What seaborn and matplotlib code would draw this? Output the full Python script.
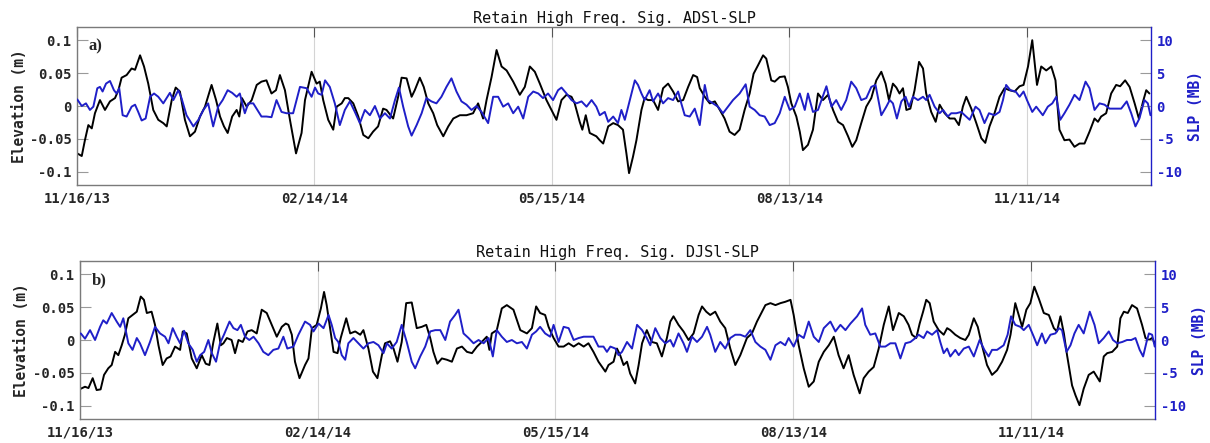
import matplotlib
matplotlib.use("Agg")
import matplotlib.pyplot as plt
import numpy as np
import pandas as pd
import seaborn as sns

# ---------------------------------------------------------------------------
# Data: high-pass filtered water elevation (m) and sea-level pressure (MB),
# sampled as days elapsed since the series start.
# ---------------------------------------------------------------------------
START = pd.Timestamp("2013-11-16")
SPAN_DAYS = 407

TICK_LABELS = ["11/16/13", "02/14/14", "05/15/14", "08/13/14", "11/11/14"]
ELEV_TICKS = [0.1, 0.05, 0, -0.05, -0.1]
ELEV_LABELS = ["0.1", "0.05", "0", "-0.05", "-0.1"]
SLP_TICKS = [10, 5, 0, -5, -10]
SLP_LABELS = ["10", "5", "0", "-5", "-10"]
TITLES = ["Retain High Freq. Sig. ADSl-SLP", "Retain High Freq. Sig. DJSl-SLP"]
TAGS = ["a)", "b)"]

# ADSl elevation
ads_elev_days = [
    0.1, 1.8, 3.0, 4.3, 5.6, 6.8, 8.7, 10.6, 12.5, 14.4, 15.7, 16.9, 18.8, 20.7, 22.0, 23.9, 25.4,
    27.0, 28.9, 30.8, 32.7, 34.0, 35.9, 37.4, 39.0, 40.9, 42.8, 44.7, 46.6, 48.5, 51.0, 52.7, 54.2,
    55.7, 57.1, 58.8, 60.5, 61.5, 62.5, 64.3, 66.2, 68.1, 69.9, 71.8, 73.7, 75.4, 76.9, 78.8, 80.7,
    83.0, 85.1,
    86.4, 88.9, 90.8, 92.0, 93.3, 95.2, 97.1, 98.4, 100.3, 101.5, 102.8, 104.7, 106.6, 108.5, 110.4,
    112.2, 114.1, 116.0, 117.3, 119.8, 121.7, 123.0, 124.9, 126.8, 128.0, 129.9, 131.4, 133.1, 135.0,
    136.5, 138.8, 140.7, 142.6, 145.1, 147.6, 150.1, 152.0, 153.9, 155.2, 157.1, 159.0, 160.9, 162.8,
    165.3, 167.8, 169.7, 171.6, 173.5, 175.4, 177.9, 179.8, 181.7, 183.6, 185.5, 187.4, 188.6, 190.5,
    191.5, 192.8, 194.3, 196.8,
    198.1, 199.4, 201.3, 203.2, 205.0, 206.9, 208.2, 209.2, 210.7, 212.0, 213.9, 215.1, 216.4, 218.3,
    220.2, 222.1, 224.0, 225.9, 227.8, 229.7, 231.6, 233.5, 235.0, 236.0, 237.9, 239.8, 241.7, 243.6,
    245.4, 247.3, 249.2, 251.1, 253.0, 254.9, 256.4, 258.1, 260.0, 261.2, 263.1, 264.4, 266.3, 268.2,
    269.4, 270.7, 272.6, 273.9, 275.1, 277.0, 278.9, 280.8, 282.7, 284.6, 286.5, 288.4, 290.3, 292.2,
    293.8, 295.3, 297.2, 299.1, 301.0, 302.9, 304.8, 306.4, 307.7,
    309.2, 310.5, 311.7, 313.0, 314.3, 315.8, 317.4, 319.1, 320.6, 321.8, 323.7, 325.4, 326.9, 328.8,
    330.7, 332.6, 334.2, 335.7, 337.0, 338.9, 340.8, 342.7, 344.2, 345.8, 347.7, 349.6, 351.5, 353.4,
    355.3, 357.2, 358.7, 360.4, 362.0, 363.8, 365.4, 367.3, 369.2, 370.8, 372.3, 374.2, 376.1, 378.0,
    379.9, 381.8, 383.7, 385.6, 386.9, 388.1, 390.0, 391.9, 393.8, 395.3, 397.2, 398.9, 400.8, 402.4,
    404.0, 405.2, 406.4,
]
ads_elev = [
    -0.072, -0.076, -0.052, -0.029, -0.034, -0.011, 0.009, -0.006, 0.007, 0.012, 0.024, 0.043, 0.047,
    0.057, 0.055, 0.077, 0.060, 0.034, -0.006, -0.021, -0.026, -0.031, 0.009, 0.028, 0.022, -0.021,
    -0.046, -0.039, -0.016, -0.001, 0.032, 0.009, -0.016, -0.031, -0.041, -0.016, -0.006, -0.016,
    0.012, -0.001, 0.009, 0.032, 0.037, 0.039, 0.019, 0.024, 0.047, 0.024, -0.021, -0.072, -0.041,
    0.009, 0.052, 0.034, 0.037, 0.009, -0.021, -0.036, -0.001, 0.004, 0.012, 0.012, 0.004, -0.016,
    -0.044, -0.049, -0.039, -0.031, -0.004, -0.006, -0.019, 0.014, 0.043, 0.042, 0.014, 0.024, 0.043,
    0.029, 0.004, -0.011, -0.029, -0.046, -0.031, -0.019, -0.014, -0.014, -0.011, 0.004, -0.019,
    0.009, 0.044, 0.085, 0.060, 0.054, 0.037, 0.017, 0.029, 0.060, 0.052, 0.034, 0.009, -0.006,
    -0.021, 0.009, 0.017, 0.014, 0.004, -0.024, -0.036, -0.014, -0.041, -0.046,
    -0.052, -0.057, -0.031, -0.026, -0.029, -0.036, -0.072, -0.102, -0.077, -0.052, -0.006, 0.012,
    0.009, 0.009, -0.006, 0.027, 0.034, 0.022, 0.007, 0.009, 0.029, 0.047, 0.044, 0.027, 0.014, 0.004,
    0.007, -0.006, -0.019, -0.039, -0.044, -0.036, -0.006, 0.019, 0.049, 0.062, 0.077, 0.072, 0.039,
    0.037, 0.044, 0.045, 0.029, 0.004, -0.016, -0.039, -0.067, -0.059, -0.036, 0.019, 0.009, 0.017,
    -0.006, -0.024, -0.029, -0.046, -0.062, -0.052, -0.026, -0.001, 0.012, 0.039, 0.052, 0.034, 0.009,
    0.034, 0.028, 0.019, 0.027, -0.006, -0.004, 0.024, 0.067, 0.057, 0.019, -0.009, -0.024, 0.002,
    -0.011, -0.019, -0.019, -0.029, -0.001, 0.014, -0.004, -0.026, -0.049, -0.056, -0.031, -0.011,
    0.014, 0.027, 0.024, 0.022, 0.030, 0.032, 0.060, 0.100, 0.032, 0.060, 0.054, 0.060, 0.039, -0.036,
    -0.052, -0.051, -0.062, -0.057, -0.057, -0.039, -0.019, -0.024, -0.016, -0.011, 0.019, 0.032,
    0.030, 0.039, 0.029, 0.004, -0.019, 0.007, 0.024, 0.019,
]

# SLP paired with ADSl
ads_slp_days = [
    0.1, 1.8, 3.4, 4.9, 6.2, 7.7, 8.7, 9.7, 11.0, 12.5, 14.0, 15.0, 16.0, 17.3, 18.8, 20.7, 22.0,
    23.2, 24.5, 26.0, 27.7, 29.2, 30.8, 32.7, 35.2, 36.5, 38.4, 39.6, 41.5, 44.1, 46.0, 47.9, 49.7,
    51.6, 53.5, 55.2, 57.1, 58.8, 60.5, 61.7, 63.6, 64.9, 66.8, 69.9, 71.8, 73.7, 75.6, 77.5, 79.4,
    81.9,
    84.5, 87.0, 88.9, 90.2, 91.4, 92.7, 94.0, 95.8, 97.7, 99.6, 101.5, 103.4, 105.3, 107.2, 109.1,
    111.0, 112.9, 114.8, 116.7, 118.6, 120.5, 122.0, 123.6, 125.5, 126.8, 128.7, 130.6, 132.4, 134.3,
    136.2, 138.1, 140.0, 141.9, 143.8, 145.7, 147.6, 149.5, 151.4, 153.3, 155.8, 157.7, 159.6, 161.5,
    163.4, 165.3, 167.2, 169.1, 171.0, 172.9, 174.8, 176.6, 178.5, 180.4, 182.3, 183.6, 185.5, 187.4,
    189.3, 191.2, 193.1, 195.0, 196.8,
    198.1, 200.0, 201.3, 203.2, 205.0, 206.3, 207.6, 209.5, 211.4, 212.6, 213.9, 215.1, 217.0, 218.3,
    220.2, 222.1, 224.0, 225.9, 227.8, 229.0, 230.3, 232.2, 234.1, 236.0, 237.9, 239.1, 241.0, 242.9,
    244.8, 246.7, 248.6, 251.1, 253.4, 254.9, 256.8, 258.7, 260.6, 262.5, 264.4, 266.3, 268.2, 270.1,
    272.0, 273.9, 275.8, 277.0, 278.9, 280.8, 282.4, 284.0, 285.9, 287.7, 289.6, 291.5, 293.4, 295.3,
    297.2, 299.1, 301.0, 302.6, 304.8, 306.7,
    308.0, 309.2, 310.7, 312.4, 314.0, 315.3, 316.8, 318.7, 320.6, 321.8, 323.1, 325.0, 326.9, 328.2,
    330.0, 331.3, 333.2, 335.1, 336.4, 338.3, 340.5, 342.0, 343.9, 345.6, 347.7, 349.6, 350.9, 352.1,
    353.7, 355.7, 357.2, 358.7, 360.0, 362.0, 363.5, 366.0, 367.9, 369.6, 371.1, 372.6, 374.2, 376.1,
    378.0, 379.9, 382.2, 383.7, 385.6, 387.5, 389.4, 391.3, 393.2, 395.7, 397.8, 399.5, 401.1, 402.6,
    404.5, 405.8, 406.8,
]
ads_slp = [
    1.0, 0.0, 0.4, -0.6, -0.1, 2.7, 2.9, 2.2, 3.4, 3.8, 2.4, 1.9, 2.7, -1.4, -1.6, -0.1, 0.2, -0.9,
    -2.2, -1.9, 1.4, 1.9, 1.4, 0.4, 2.0, 0.9, 2.4, 1.2, -1.4, -3.1, -2.1, -0.6, 0.4, -3.1, -0.1, 0.9,
    2.4, 2.0, 1.4, 1.9, -1.1, 0.4, 0.4, -1.6, -1.6, -1.7, 0.9, -0.9, -1.1, -1.1,
    2.9, 2.7, 1.4, 2.8, 1.9, 1.7, 3.9, 2.9, 0.4, -2.9, -0.6, 0.7, -0.9, -2.6, -0.6, -1.4, 0.0, -1.9,
    -1.1, -1.9, 0.9, 2.8, -0.1, -3.1, -4.5, -2.9, -1.1, 1.2, 0.7, 0.4, 1.4, 2.9, 4.2, 2.2, 0.7, 0.2,
    -0.6, 0.0, -0.9, -2.6, 1.4, 1.4, -0.1, 0.4, -1.1, -0.1, -1.9, 1.4, 2.2, 1.9, 1.2, 1.9, 0.9, 2.4,
    2.8, 1.9, 0.9, 0.4, 0.7, -0.1, 0.9, -0.1,
    -1.4, -0.9, -2.4, -1.6, -2.6, -0.6, -2.1, 0.9, 3.9, 3.2, 1.9, 0.9, 2.4, 0.7, 1.9, 0.4, 1.2, 0.9,
    2.2, 0.4, -1.4, -1.6, -0.4, -2.9, 3.2, 0.9, 0.4, -0.1, -1.1, -0.1, 0.9, 1.9, 3.3, -0.1, -0.6,
    -1.4, -1.6, -2.9, -2.6, -1.1, 1.4, -0.6, -0.1, 1.9, -0.6, 1.9, -0.9, -0.6, 1.2, 3.0, -0.1, 0.9,
    -0.6, 0.9, 3.7, 2.7, 0.9, 1.2, 2.9, 3.2, -1.4, -0.1,
    0.9, 0.4, -1.9, 0.7, 1.4, -0.1, 1.4, 0.9, 1.4, 0.9, 1.7, -0.1, -1.1, -0.6, -1.6, -1.1, -1.1, -0.9,
    -1.4, -2.1, -0.1, -0.6, -2.6, -1.1, -1.4, -0.9, 0.9, 3.2, 2.4, 2.2, 1.4, 2.2, 0.9, -0.9, -0.1,
    -1.4, -0.1, 0.4, 1.4, -2.1, -1.1, 0.2, 1.7, 0.9, 3.7, 2.7, -0.6, 0.4, 0.2, -0.4, -0.4, -0.4, 0.7,
    -1.1, -3.1, -1.9, 0.9, 0.4, -1.4,
]

# DJSl elevation
djs_elev_days = [
    0.3, 1.9, 3.2, 4.8, 6.3, 7.8, 9.1, 10.7, 12.0, 13.3, 14.5, 15.8, 17.0, 18.3, 19.9, 21.5, 23.0,
    24.2, 25.3, 27.1, 28.4, 29.7, 31.3, 32.8, 34.3, 36.0, 37.9, 38.9, 40.4, 42.3, 44.2, 46.1, 47.6,
    49.0, 50.5, 52.0, 53.3, 54.3, 55.6, 57.4, 58.7, 60.0, 61.6, 63.4, 65.0, 66.9, 68.8, 70.7, 72.6,
    74.5, 76.4, 77.9, 78.9, 80.2, 81.4, 83.1,
    85.2, 86.5, 87.8, 89.6, 91.2, 92.4, 93.4, 94.7, 96.0, 97.5, 98.7, 100.8, 102.3, 104.2, 106.1,
    107.3, 109.2, 110.9, 112.6, 114.3, 115.5, 117.4, 118.7, 120.2, 121.8, 123.5, 125.6, 127.5, 129.4,
    131.1, 132.6, 133.8, 135.3, 137.0, 138.9, 140.8, 142.7, 144.6, 146.5, 148.4, 150.3, 152.1, 154.0,
    155.0, 155.9, 157.8, 159.7, 161.6, 164.1, 166.7, 169.2, 171.1, 172.7, 174.2, 176.1, 177.4, 179.3,
    181.2, 183.1, 185.0, 186.9, 188.8, 190.7, 192.5, 194.4, 196.3,
    198.9, 200.1, 202.0, 203.3, 204.5, 205.8, 207.1, 208.3, 210.2, 211.5, 212.8, 214.6, 216.5, 218.4,
    220.3, 222.2, 223.5, 224.7, 226.6, 228.5, 230.4, 232.3, 234.2, 235.5, 237.1, 238.6, 240.5, 242.4,
    244.3, 246.2, 248.1, 250.0, 252.5, 254.4, 256.3, 258.2, 259.5, 261.4, 263.3, 265.2, 267.0, 269.0,
    270.2, 272.1, 274.0, 275.9, 277.8, 279.7, 281.6, 283.5, 285.4, 287.2, 289.1, 291.0, 292.9, 295.2,
    296.7, 298.6, 300.5, 302.4, 304.3, 306.2, 307.8,
    310.0, 311.9, 313.7, 315.0, 316.6, 317.9, 319.2, 320.4, 321.7, 323.2, 325.1, 327.0, 328.3, 329.5,
    331.4, 333.3, 335.2, 336.5, 338.4, 339.9, 341.5, 343.4, 345.3, 347.2, 349.1, 351.0, 352.3, 354.1,
    355.4, 356.7, 358.3, 359.8, 361.3, 363.0, 364.9, 366.8, 368.7, 369.9, 371.2, 372.5, 373.7, 375.6,
    376.9, 378.4, 380.0, 381.9, 383.8, 386.1, 387.6, 388.9, 390.8, 392.7, 393.9, 395.2, 396.7, 398.3,
    400.2, 402.1, 403.4, 404.7, 405.9, 406.9,
]
djs_elev = [
    -0.074, -0.071, -0.073, -0.058, -0.076, -0.075, -0.053, -0.043, -0.038, -0.018, -0.023, -0.008,
    0.008, 0.033, 0.038, 0.043, 0.066, 0.061, 0.041, 0.043, 0.023, -0.008, -0.038, -0.028, -0.025,
    -0.010, -0.015, 0.013, 0.010, -0.028, -0.043, -0.023, -0.036, -0.038, -0.003, 0.025, -0.008,
    -0.005, 0.003, 0.000, -0.020, 0.000, -0.003, 0.013, 0.015, 0.010, 0.046, 0.041, 0.023, 0.005,
    0.020, 0.025, 0.023, 0.008, -0.033, -0.058,
    -0.038, -0.028, 0.018, 0.023, 0.048, 0.073, 0.053, 0.018, -0.018, -0.020, 0.003, 0.033, 0.010,
    0.013, 0.008, 0.015, -0.013, -0.048, -0.058, -0.023, -0.005, -0.002, -0.013, -0.033, -0.003,
    0.056, 0.057, 0.018, 0.020, 0.023, 0.003, -0.018, -0.036, -0.028, -0.030, -0.033, -0.013, -0.010,
    -0.018, -0.020, -0.010, -0.003, 0.005, -0.015, 0.010, 0.015, 0.048, 0.053, 0.046, 0.015, 0.010,
    0.018, 0.051, 0.041, 0.038, 0.020, 0.003, -0.010, -0.010, -0.005, -0.010, -0.005, -0.010, -0.005,
    -0.018, -0.033,
    -0.048, -0.038, -0.033, -0.013, -0.023, -0.038, -0.033, -0.051, -0.066, -0.038, -0.005, 0.015,
    -0.003, -0.005, -0.025, 0.003, 0.028, 0.036, 0.023, 0.013, 0.000, 0.010, 0.038, 0.051, 0.043,
    0.038, 0.043, 0.028, 0.018, -0.013, -0.038, -0.023, 0.003, 0.010, 0.028, 0.043, 0.053, 0.056,
    0.053, 0.056, 0.058, 0.061, 0.038, -0.008, -0.043, -0.071, -0.063, -0.033, -0.018, -0.008, 0.005,
    -0.023, -0.043, -0.023, -0.053, -0.081, -0.058, -0.048, -0.041, -0.013, 0.023, 0.051, 0.015,
    0.041, 0.036, 0.023, 0.008, 0.003, 0.025, 0.043, 0.061, 0.056, 0.028, 0.015, 0.008, 0.018, 0.015,
    0.008, 0.003, 0.000, 0.008, 0.033, 0.020, -0.008, -0.038, -0.053, -0.046, -0.033, -0.015, 0.008,
    0.056, 0.038, 0.020, 0.046, 0.056, 0.081, 0.063, 0.041, 0.038, 0.018, 0.013, 0.036, 0.010, -0.023,
    -0.069, -0.084, -0.099, -0.074, -0.053, -0.048, -0.063, -0.025, -0.020, -0.018, -0.010, 0.033,
    0.043, 0.041, 0.053, 0.048, 0.023, 0.003, 0.000, 0.003, -0.005,
]

# SLP paired with DJSl
djs_slp_days = [
    0.3, 1.9, 3.8, 5.7, 7.6, 8.8, 10.1, 12.0, 13.9, 15.2, 16.4, 18.3, 19.9, 21.5, 22.7, 24.6, 26.5,
    28.4, 30.3, 32.2, 33.5, 35.1, 36.6, 37.9, 39.4, 41.0, 42.7, 44.2, 45.5, 47.0, 48.6, 49.9, 51.5,
    53.0, 54.5, 56.6, 58.1, 59.6, 60.9, 62.5, 64.1, 65.7, 67.6, 69.4, 71.3, 73.2, 75.1, 77.0, 78.5,
    80.8, 82.7,
    85.2, 87.1, 88.4, 90.3, 92.2, 94.1, 95.3, 96.6, 97.8, 99.1, 100.4, 101.6, 103.5, 105.4, 107.3,
    109.2, 111.1, 113.0, 114.9, 116.2, 118.0, 119.9, 121.8, 123.7, 125.6, 126.9, 128.8, 130.7, 132.6,
    134.5, 136.4, 138.3, 140.1, 142.0, 143.3, 145.2, 147.1, 149.0, 150.9, 152.8, 154.7, 156.3, 157.8,
    159.7, 161.6, 163.5, 165.4, 167.3, 169.2, 171.1, 172.7, 174.2, 176.1, 178.0, 179.3, 181.2, 183.1,
    185.0, 186.9, 188.8, 190.7, 192.5, 194.4, 196.3,
    198.2, 199.5, 200.8, 202.7, 203.9, 205.2, 207.1, 209.0, 210.9, 212.8, 214.6, 215.9, 217.8, 219.7,
    221.6, 223.5, 224.7, 226.6, 228.5, 229.8, 231.7, 233.6, 235.5, 237.4, 238.6, 240.5, 242.4, 244.3,
    246.2, 248.1, 250.0, 251.9, 253.8, 255.7, 257.6, 259.5, 261.4, 263.3, 265.2, 267.0, 268.3, 270.2,
    272.1, 274.0, 275.9, 277.8, 279.7, 281.6, 284.1, 286.0, 287.9, 289.8, 291.7, 294.2, 296.1, 297.3,
    299.2, 301.1, 303.0, 304.9, 306.8,
    308.7, 310.6, 312.5, 314.4, 316.3, 317.5, 319.4, 320.7, 322.6, 324.5, 325.7, 327.0, 328.3, 329.5,
    331.4, 332.7, 334.6, 336.5, 338.4, 340.6, 342.4, 344.0, 345.3, 347.2, 349.7, 351.2, 352.5, 354.1,
    356.0, 357.3, 359.2, 361.1, 362.4, 364.2, 365.5, 367.4, 369.3, 370.6, 371.8, 373.5, 375.0, 376.5,
    378.1, 380.0, 382.3, 384.1, 385.7, 387.6, 389.5, 391.1, 392.7, 394.6, 396.4, 398.0, 399.6, 401.2,
    402.5, 403.8, 404.7, 405.9, 406.9,
]
djs_slp = [
    1.0, 0.2, 1.5, 0.0, 2.0, 3.0, 2.5, 4.1, 2.8, 2.0, 3.3, -0.5, -1.5, 0.3, -0.5, -2.3, -0.3, 2.0,
    1.0, 0.5, -0.5, 1.8, 0.5, -0.5, 1.4, -0.5, -1.5, -3.3, -2.3, -1.8, 0.0, -2.0, -3.3, -0.5, 0.8,
    2.8, 1.8, 1.5, 2.3, 0.5, 0.0, 0.5, -0.5, -1.8, -2.3, -1.5, -1.3, 0.5, -1.3, -1.0, 0.8,
    2.8, 2.3, 1.3, 2.5, 1.8, 3.8, 2.3, 0.3, -0.3, -2.3, -3.0, -0.5, 0.3, -0.5, -1.3, -0.5, -0.3, -0.8,
    -2.0, -0.5, -1.3, -0.3, 2.3, -0.3, -3.3, -4.3, -2.5, -1.0, 1.3, 1.5, 1.5, 0.0, 2.8, 3.8, 4.6, 1.0,
    0.3, -0.5, 0.0, -0.5, 0.3, -2.5, 1.5, 0.5, -0.3, 0.0, -0.5, -0.3, -1.3, 0.8, 1.3, 2.0, 1.0, 0.5,
    2.3, -0.3, 2.0, 1.8, 0.0, 0.3, 0.5, 0.5, 0.5, -1.0,
    -1.0, -1.8, -1.0, -1.3, -2.3, -1.8, -0.3, -1.3, 2.3, 1.5, 0.3, -0.8, 1.8, 0.3, -0.5, 0.0, -1.0,
    1.0, -0.5, -1.8, 0.5, -0.3, 0.5, 2.0, 0.8, -1.8, -0.3, -1.3, 0.3, 0.8, 0.8, 0.5, 1.5, -0.3, -1.0,
    -1.5, -3.0, -0.8, -0.3, -0.8, 0.3, -1.0, 0.8, 0.3, 2.8, 0.5, -0.3, 1.8, 2.8, 1.3, 2.3, 1.5, 2.5,
    3.6, 4.8, 2.3, 0.8, 1.0, -1.0, -1.0, -0.5,
    -0.5, -2.8, -0.5, -0.3, 0.3, 0.8, 0.3, 1.3, 0.8, 1.5, -0.3, -2.0, -1.3, -2.5, -1.5, -2.3, -1.3,
    -1.0, -2.5, 0.0, -1.5, -2.5, -1.5, -1.5, -0.8, 0.8, 3.6, 2.3, 2.0, 1.5, 2.3, 0.5, -0.8, 1.0, -0.5,
    0.8, 1.0, 1.8, 1.5, -1.8, -0.8, 1.0, 2.3, 1.0, 4.3, 2.3, -0.5, 0.3, 1.3, 0.0, -0.5, -0.3, 0.0,
    0.0, 0.3, -1.5, -2.5, -0.3, 1.0, 0.8, -1.0,
]

# ---------------------------------------------------------------------------
# Styling
# ---------------------------------------------------------------------------
BLUE = "#1f1fc8"
FRAME = "#7a7a7a"
TICK_GREY = "#9a9a9a"
MONO = "DejaVu Sans Mono"

sns.set_style("white")
plt.rcParams["font.family"] = ["DejaVu Sans"]

fig = plt.figure(figsize=(12.1, 4.43), dpi=100)

tick_dates = pd.to_datetime(TICK_LABELS, format="%m/%d/%y")
mono_kw = dict(fontfamily=MONO, fontweight="bold", fontsize=10)


def as_dates(days):
    return START + pd.to_timedelta(np.asarray(days, dtype=float), unit="D")


def draw_panel(rect, e_days, e_vals, s_days, s_vals, title, tag, ylab_x, rlab_x):
    ax = fig.add_axes(rect)
    ax2 = ax.twinx()

    elev_df = pd.DataFrame({"date": as_dates(e_days), "elevation": e_vals})
    slp_df = pd.DataFrame({"date": as_dates(s_days), "slp": s_vals})

    sns.lineplot(data=elev_df, x="date", y="elevation", ax=ax, color="black",
                 linewidth=1.4, estimator=None)
    sns.lineplot(data=slp_df, x="date", y="slp", ax=ax2, color=BLUE,
                 linewidth=1.4, estimator=None)

    ax.set_xlim(START, START + pd.Timedelta(days=SPAN_DAYS))
    ax.set_ylim(-0.12, 0.12)
    ax2.set_ylim(-12, 12)

    ax.set_xticks(tick_dates)
    ax.set_xticklabels(TICK_LABELS, **mono_kw)
    ax.set_yticks(ELEV_TICKS)
    ax.set_yticklabels(ELEV_LABELS, **mono_kw)
    ax2.set_yticks(SLP_TICKS)
    ax2.set_yticklabels(SLP_LABELS, color=BLUE, **mono_kw)

    ax.grid(True, axis="x", color="#d4d4d4", linewidth=0.8)
    ax.grid(False, axis="y")
    ax2.grid(False)
    ax.set_axisbelow(True)

    ax.tick_params(axis="x", direction="in", top=True, length=7, width=0.8,
                   color="#555555", pad=5)
    ax.tick_params(axis="y", direction="in", length=8, width=0.8,
                   color=TICK_GREY, pad=4, right=False)
    ax2.tick_params(axis="y", direction="in", length=8, width=0.8,
                    color=TICK_GREY, pad=4)

    for name in ["top", "bottom", "left"]:
        ax.spines[name].set_color(FRAME)
        ax.spines[name].set_linewidth(1.0)
        ax2.spines[name].set_visible(False)
    ax.spines["right"].set_visible(False)
    ax2.spines["right"].set_color(BLUE)
    ax2.spines["right"].set_linewidth(1.0)

    ax.set_xlabel("")
    ax2.set_xlabel("")
    ax.set_ylabel("Elevation (m)", fontfamily=MONO, fontweight="bold", fontsize=10.5)
    ax2.set_ylabel("SLP (MB)", fontfamily=MONO, fontweight="bold", fontsize=10.5,
                   color=BLUE)
    ax.yaxis.set_label_coords(ylab_x, 0.5)
    ax2.yaxis.set_label_coords(rlab_x, 0.5)

    ax.set_title(title, fontfamily=MONO, fontweight="normal", fontsize=11, pad=3,
                 color="#111111")
    ax.text(0.011, 0.875, tag, transform=ax.transAxes, fontfamily="Liberation Serif",
            fontweight="bold", fontsize=12, ha="left", va="center")


draw_panel([77 / 1210, 1 - 185 / 443, 1074 / 1210, 158 / 443],
           ads_elev_days, ads_elev, ads_slp_days, ads_slp,
           TITLES[0], TAGS[0], -0.047, 1.034)
draw_panel([80 / 1210, 1 - 419 / 443, 1075 / 1210, 158 / 443],
           djs_elev_days, djs_elev, djs_slp_days, djs_slp,
           TITLES[1], TAGS[1], -0.047, 1.034)

fig.savefig("out.png", dpi=100)
